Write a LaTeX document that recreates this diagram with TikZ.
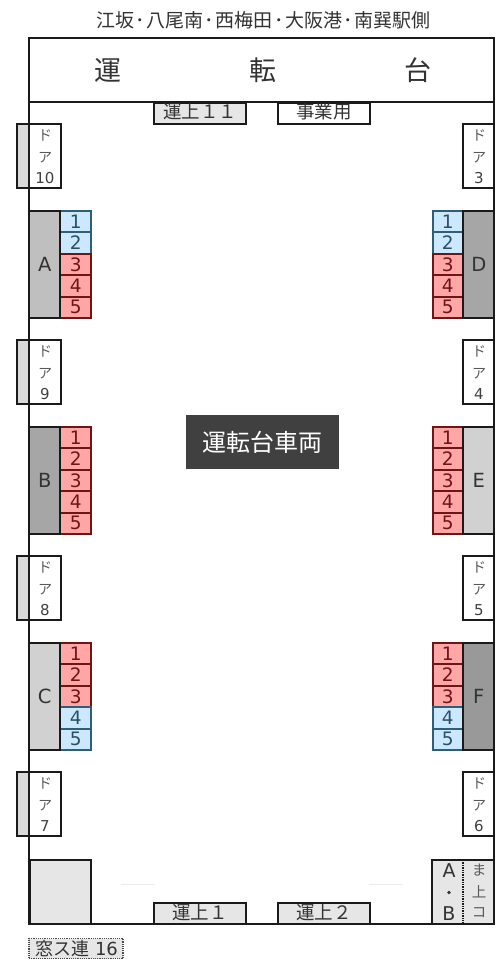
\documentclass[tikz,border=0pt]{standalone}
\usepackage{fontspec}
\setmainfont{DejaVu Sans}
\newfontfamily\jp{Noto Sans CJK JP}
\definecolor{frameK}{HTML}{1A1A1A}
\definecolor{txt}{HTML}{333333}
\definecolor{blueF}{HTML}{CCE8FF}
\definecolor{blueL}{HTML}{2F5F78}
\definecolor{redF}{HTML}{FFA6A6}
\definecolor{redL}{HTML}{701414}
\definecolor{lg}{HTML}{E6E6E6}
\definecolor{tab}{HTML}{D9D9D9}
\tikzset{
  every node/.style={inner sep=0pt,outer sep=0pt,text=txt},
  box/.style={draw=frameK,line width=2pt,line join=miter},
  bluecell/.style={rectangle,minimum width=30.5pt,minimum height=21.4pt,draw=blueL,line width=2pt,fill=blueF,font=\fontsize{18.5}{19}\selectfont,text=blueL!85!black},
  redcell/.style={rectangle,minimum width=30.5pt,minimum height=21.4pt,draw=redL,line width=2pt,fill=redF,font=\fontsize{18.5}{19}\selectfont,text=redL},
  doorbox/.style={rectangle,box,fill=white,minimum width=31.5pt,minimum height=64.5pt},
  doortab/.style={rectangle,box,fill=tab,minimum width=12pt,minimum height=64.5pt},
  lettersty/.style={rectangle,box,minimum width=31pt,minimum height=106.5pt,font=\fontsize{19.5}{20}\selectfont},
  tag/.style={rectangle,box,fill=lg,minimum height=21pt,minimum width=92.5pt},
  tagtext/.style={font=\jp\fontsize{18.5}{19}\selectfont},
  doortxt/.style={font=\jp\fontsize{14}{15}\selectfont,text=black!65},
  doornum/.style={font=\fontsize{15}{16}\selectfont,text=black!75},
  faint/.style={draw=black!8,line width=0.6pt},
}
\newcommand{\doortext}[3]{%
  \node[doortxt] at (#1,#2+11.5) {ド};
  \node[doortxt] at (#1,#2+33.5) {ア};
  \node[doornum] at (#1,#2+54.5) {#3};}
\newcommand{\seats}[4]{%
  \foreach \i/\c in {#4}{
    \node[\c cell] (#1\i) at (#2,#3+10.7+21.4*\i-21.4) {\i};
  }}
\newcommand{\dt}{\kern1.5pt ･\kern1.5pt }
\begin{document}
\begin{tikzpicture}[x=1pt,y=-1pt]
\useasboundingbox (0,0) rectangle (496,959);
\fill[white] (0,0) rectangle (496,959);
\node[font=\jp\fontsize{19}{20}\selectfont] (title) at (263.5,20) {江坂\dt 八尾南\dt 西梅田\dt 大阪港\dt 南巽駅側};
% top tags
\node[tag] (u11) at (199.8,113.5) {};
\node[tagtext] (u11t) at (200,112) {運上１１};
\node[tag,fill=white] (jg) at (323.8,113.5) {};
\node[tagtext] (jgt) at (324,112) {事業用};
% bottom tags
\coordinate (fa1) at (121,884); \coordinate (fa2) at (155,884);
\coordinate (fa3) at (369,884); \coordinate (fa4) at (403,884);
\draw[faint] (fa1) -- (fa2);
\draw[faint] (fa3) -- (fa4);
\node[tag] (u1) at (199.8,913.5) {};
\node[tagtext] (u1t) at (200,913) {運上１};
\node[tag] (u2) at (323.8,913.5) {};
\node[tagtext] (u2t) at (324,913) {運上２};
% frame
\node[rectangle,draw=frameK,line width=2.2pt,minimum width=465pt,minimum height=886pt] (car) at (261.5,481) {};
\node[rectangle,draw=frameK,line width=2.2pt,minimum width=465pt,minimum height=64pt] (cab) at (261.5,70) {};
\node[font=\jp\fontsize{27}{28}\selectfont] (c1) at (108,70) {運};
\node[font=\jp\fontsize{27}{28}\selectfont] (c2) at (263,70) {転};
\node[font=\jp\fontsize{27}{28}\selectfont] (c3) at (418,70) {台};
% left doors
\foreach \n/\y/\d in {d10/124/10,d9/340/9,d8/556/8,d7/772/7}{
  \node[doortab] (\n t) at (23,\y+32.2) {};
  \node[doorbox] (\n) at (44.8,\y+32.2) {};
  \doortext{45}{\y}{\d}
}
% right doors
\foreach \n/\y/\d in {d3/124/3,d4/340/4,d5/556/5,d6/772/6}{
  \node[doorbox,minimum width=31pt] (\n) at (478.8,\y+32.2) {};
  \doortext{479}{\y}{\d}
}
% seat blocks
\seats{sa}{75.7}{211}{1/blue,2/blue,3/red,4/red,5/red}
\node[lettersty,fill=black!25] (A) at (44.8,264.5) {A};
\seats{sb}{75.7}{427}{1/red,2/red,3/red,4/red,5/red}
\node[lettersty,fill=black!35] (B) at (44.8,480.5) {B};
\seats{sc}{75.7}{643}{1/red,2/red,3/red,4/blue,5/blue}
\node[lettersty,fill=black!18] (C) at (44.8,696.5) {C};
\seats{sd}{447.8}{211}{1/blue,2/blue,3/red,4/red,5/red}
\node[lettersty,fill=black!35] (D) at (478.8,264.5) {D};
\seats{se}{447.8}{427}{1/red,2/red,3/red,4/red,5/red}
\node[lettersty,fill=black!18] (E) at (478.8,480.5) {E};
\seats{sf}{447.8}{643}{1/red,2/red,3/red,4/blue,5/blue}
\node[lettersty,fill=black!40] (F) at (478.8,696.5) {F};
% centre label
\node[rectangle,fill=black!75,minimum width=153pt,minimum height=54pt,text=white,font=\jp\fontsize{24}{25}\selectfont] (lbl) at (262.5,442) {\raisebox{-2pt}{運転台車両}};
% bottom corners
\node[rectangle,box,fill=lg,minimum width=61.5pt,minimum height=64pt] (cb) at (60.4,892) {};
\node[rectangle,box,fill=lg,minimum width=61.5pt,minimum height=64pt] (ab) at (463.2,892) {};
\coordinate (dtop) at (463,860); \coordinate (dbot) at (463,924);
\draw[densely dotted,draw=frameK,line width=1.4pt] (dtop) -- (dbot);
\node[font=\fontsize{19}{20}\selectfont] (abA) at (449,871) {A};
\fill[txt] (449,892.5) circle (1.8pt);
\node[font=\fontsize{19}{20}\selectfont] (abB) at (449,914) {B};
\node[doortxt,font=\jp\fontsize{14.5}{15}\selectfont] (m1) at (479,870) {ま};
\node[doortxt,font=\jp\fontsize{14.5}{15}\selectfont] (m2) at (479,892) {上};
\node[doortxt,font=\jp\fontsize{14.5}{15}\selectfont] (m3) at (479,913) {コ};
\node[rectangle,draw=black!70,densely dotted,line width=1.2pt,fill=lg,minimum width=94pt,minimum height=20pt] (mado) at (76,948.5) {};
\node[font=\jp\fontsize{18}{19}\selectfont] (madot) at (76.5,948.5) {窓ス連\kern6pt{\rmfamily\fontsize{18}{19}\selectfont 16}};
\end{tikzpicture}
\end{document}
